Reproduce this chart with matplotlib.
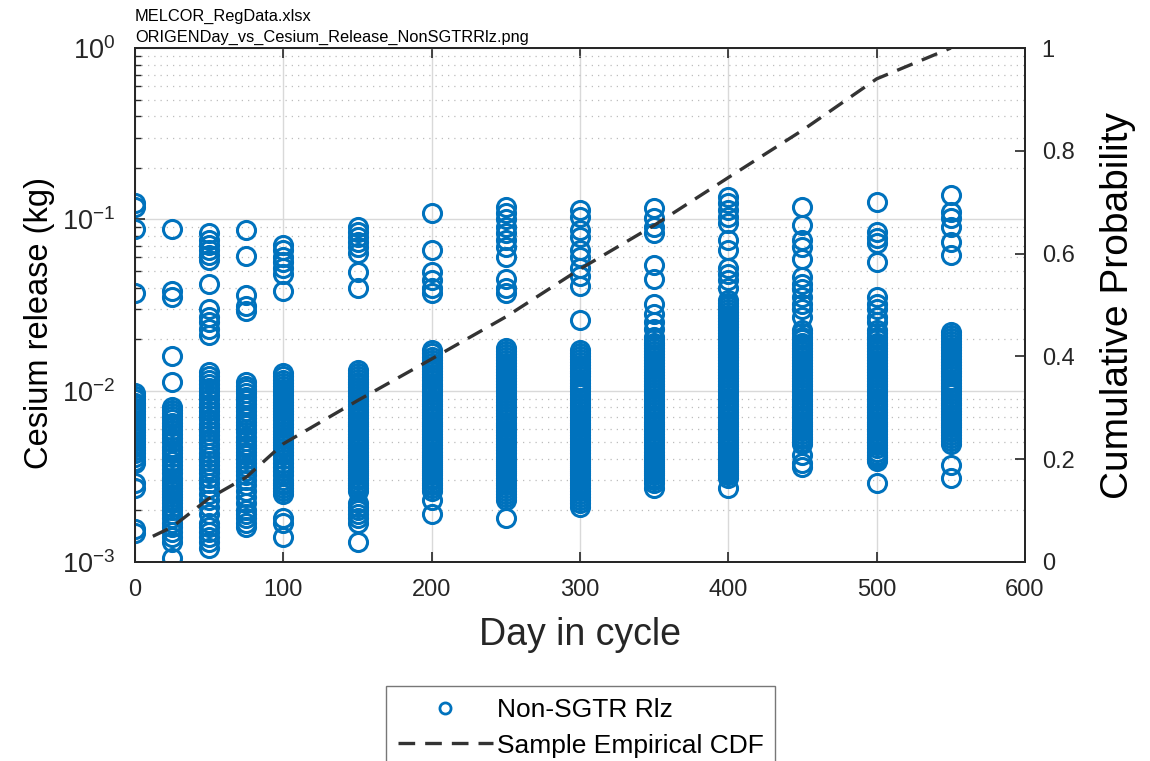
import numpy as np
import matplotlib
matplotlib.use("Agg")
import matplotlib.pyplot as plt
from matplotlib.lines import Line2D
from matplotlib.ticker import LogLocator, NullFormatter

plt.rcParams['font.family'] = ['Liberation Sans', 'DejaVu Sans']
plt.rcParams['mathtext.fontset'] = 'custom'
plt.rcParams['mathtext.rm'] = 'Liberation Sans'
plt.rcParams['mathtext.it'] = 'Liberation Sans'

# day-in-cycle groups and cesium release values (kg)
days = [0, 25, 50, 75, 100, 150, 200, 250, 300, 350, 400, 450, 500, 550]

rel_0 = [0.125, 0.118, 0.088, 0.037,
         0.0097, 0.0093, 0.0089, 0.0085, 0.0082, 0.0079, 0.0076, 0.0073, 0.0070, 0.0067,
         0.0064, 0.0061, 0.0059, 0.0057, 0.0055, 0.0053, 0.0051, 0.0049, 0.0047, 0.0045,
         0.0043, 0.0041, 0.0039, 0.0038, 0.0029, 0.0027, 0.00155, 0.00148]
rel_25 = [0.088, 0.038, 0.035, 0.016, 0.0113,
          0.0080, 0.0077, 0.0074, 0.0071, 0.0068, 0.0065, 0.0062, 0.0059, 0.0056, 0.0053,
          0.0050, 0.0047, 0.0045, 0.0043, 0.0041, 0.0039, 0.0037, 0.0035, 0.0033, 0.0031,
          0.0030, 0.0029, 0.0028, 0.0027, 0.0026, 0.0025, 0.0024, 0.0023, 0.0022, 0.0021,
          0.0020, 0.0019, 0.0018, 0.0017, 0.0016, 0.0015, 0.0014, 0.0013, 0.00105]
rel_50 = [0.083, 0.076, 0.071, 0.066, 0.062, 0.058, 0.042, 0.030, 0.027, 0.025, 0.023, 0.021,
          0.0128, 0.0122, 0.0116, 0.0110, 0.0104, 0.0099, 0.0094, 0.0089, 0.0084, 0.0080,
          0.0076, 0.0072, 0.0068, 0.0064, 0.0061, 0.0058, 0.0055, 0.0052, 0.0049, 0.0046,
          0.0043, 0.0041, 0.0039, 0.0037, 0.0035, 0.0033, 0.0031, 0.0029, 0.0027, 0.0025,
          0.0023, 0.0021, 0.0019, 0.0017, 0.0016, 0.0015, 0.0014, 0.0013, 0.0012]
rel_75 = [0.087, 0.061, 0.036, 0.031, 0.029,
          0.0112, 0.0107, 0.0102, 0.0097, 0.0092, 0.0088, 0.0084, 0.0080, 0.0076, 0.0072,
          0.0069, 0.0066, 0.0063, 0.0060, 0.0057, 0.0054, 0.0051, 0.0048, 0.0046, 0.0044,
          0.0042, 0.0040, 0.0038, 0.0036, 0.0034, 0.0032, 0.0030, 0.0028, 0.0026, 0.0024,
          0.0022, 0.0020, 0.0019, 0.0018, 0.0017, 0.0016]
rel_100 = [0.071, 0.066, 0.060, 0.056, 0.052, 0.048, 0.038,
           0.0126, 0.0121, 0.0116, 0.0111, 0.0106, 0.0102, 0.0098, 0.0094, 0.0090, 0.0086,
           0.0082, 0.0079, 0.0076, 0.0073, 0.0070, 0.0067, 0.0064, 0.0061, 0.0058, 0.0056,
           0.0054, 0.0052, 0.0050, 0.0048, 0.0046, 0.0044, 0.0042, 0.0040, 0.0038, 0.0036,
           0.0034, 0.0032, 0.0030, 0.0029, 0.0028, 0.0027, 0.0026, 0.0025, 0.0018, 0.0017,
           0.0014]
rel_150 = [0.090, 0.084, 0.079, 0.074, 0.069, 0.064, 0.049, 0.040,
           0.0132, 0.0127, 0.0122, 0.0117, 0.0113, 0.0109, 0.0105, 0.0101, 0.0097, 0.0093,
           0.0090, 0.0087, 0.0084, 0.0081, 0.0078, 0.0075, 0.0072, 0.0069, 0.0066, 0.0064,
           0.0062, 0.0060, 0.0058, 0.0056, 0.0054, 0.0052, 0.0050, 0.0048, 0.0046, 0.0044,
           0.0042, 0.0041, 0.0040, 0.0039, 0.0038, 0.0037, 0.0036, 0.0035, 0.0034, 0.0033,
           0.0032, 0.0031, 0.0030, 0.0029, 0.0028, 0.0027, 0.0026, 0.0022, 0.0021, 0.0020,
           0.0019, 0.0018, 0.0017, 0.0013]
rel_200 = [0.109, 0.066, 0.049, 0.044, 0.040, 0.037,
           0.0172, 0.0165, 0.0158, 0.0152, 0.0146, 0.0140, 0.0135, 0.0130, 0.0125, 0.0120,
           0.0115, 0.0110, 0.0106, 0.0102, 0.0098, 0.0094, 0.0090, 0.0087, 0.0084, 0.0081,
           0.0078, 0.0075, 0.0072, 0.0069, 0.0066, 0.0064, 0.0062, 0.0060, 0.0058, 0.0056,
           0.0054, 0.0052, 0.0050, 0.0048, 0.0046, 0.0044, 0.0042, 0.0041, 0.0040, 0.0039,
           0.0038, 0.0037, 0.0036, 0.0035, 0.0034, 0.0033, 0.0032, 0.0031, 0.0030, 0.0029,
           0.0028, 0.0027, 0.0026, 0.0023, 0.0019]
rel_250 = [0.118, 0.109, 0.100, 0.090, 0.083, 0.076, 0.069, 0.060, 0.045, 0.040, 0.037,
           0.0177, 0.0171, 0.0164, 0.0157, 0.0151, 0.0145, 0.0139, 0.0134, 0.0129, 0.0124,
           0.0119, 0.0114, 0.0109, 0.0105, 0.0101, 0.0097, 0.0093, 0.0089, 0.0086, 0.0083,
           0.0080, 0.0077, 0.0074, 0.0071, 0.0068, 0.0065, 0.0063, 0.0061, 0.0059, 0.0057,
           0.0055, 0.0053, 0.0051, 0.0049, 0.0047, 0.0045, 0.0043, 0.0041, 0.0040, 0.0039,
           0.0038, 0.0037, 0.0036, 0.0035, 0.0034, 0.0033, 0.0032, 0.0031, 0.0030, 0.0029,
           0.0028, 0.0027, 0.0026, 0.0025, 0.0024, 0.0023, 0.0018]
rel_300 = [0.113, 0.103, 0.087, 0.079, 0.066, 0.060, 0.052, 0.047, 0.041, 0.026,
           0.0173, 0.0166, 0.0159, 0.0153, 0.0147, 0.0141, 0.0136, 0.0131, 0.0126, 0.0121,
           0.0116, 0.0111, 0.0107, 0.0103, 0.0099, 0.0095, 0.0091, 0.0088, 0.0085, 0.0082,
           0.0079, 0.0076, 0.0073, 0.0070, 0.0067, 0.0065, 0.0063, 0.0061, 0.0059, 0.0057,
           0.0055, 0.0053, 0.0051, 0.0049, 0.0047, 0.0045, 0.0043, 0.0041, 0.0040, 0.0039,
           0.0038, 0.0037, 0.0036, 0.0035, 0.0034, 0.0033, 0.0032, 0.0031, 0.0030, 0.0029,
           0.0028, 0.0027, 0.0026, 0.0025, 0.0024, 0.0023, 0.0022, 0.0021]
rel_350 = [0.116, 0.102, 0.090, 0.083, 0.054, 0.045, 0.032, 0.028, 0.025, 0.023,
           0.0207, 0.0199, 0.0191, 0.0184, 0.0177, 0.0170, 0.0163, 0.0157, 0.0151, 0.0145,
           0.0139, 0.0134, 0.0129, 0.0124, 0.0119, 0.0114, 0.0110, 0.0106, 0.0102, 0.0098,
           0.0094, 0.0090, 0.0087, 0.0084, 0.0081, 0.0078, 0.0075, 0.0072, 0.0069, 0.0066,
           0.0064, 0.0062, 0.0060, 0.0058, 0.0056, 0.0054, 0.0052, 0.0050, 0.0048, 0.0046,
           0.0044, 0.0042, 0.0041, 0.0040, 0.0039, 0.0038, 0.0037, 0.0036, 0.0035, 0.0034,
           0.0033, 0.0032, 0.0031, 0.0030, 0.0029, 0.0027]
rel_400 = [0.135, 0.125, 0.113, 0.103, 0.095, 0.076, 0.066, 0.052, 0.048, 0.044, 0.040,
           0.0340, 0.0326, 0.0313, 0.0300, 0.0288, 0.0277, 0.0266, 0.0255, 0.0245, 0.0235,
           0.0226, 0.0217, 0.0208, 0.0200, 0.0192, 0.0184, 0.0177, 0.0170, 0.0163, 0.0157,
           0.0151, 0.0145, 0.0139, 0.0134, 0.0129, 0.0124, 0.0119, 0.0114, 0.0110, 0.0106,
           0.0102, 0.0098, 0.0094, 0.0090, 0.0087, 0.0084, 0.0081, 0.0078, 0.0075, 0.0072,
           0.0069, 0.0066, 0.0064, 0.0062, 0.0060, 0.0058, 0.0056, 0.0054, 0.0052, 0.0050,
           0.0048, 0.0046, 0.0044, 0.0042, 0.0041, 0.0040, 0.0039, 0.0038, 0.0037, 0.0036,
           0.0035, 0.0034, 0.0033, 0.0032, 0.0031, 0.0027]
rel_450 = [0.118, 0.093, 0.076, 0.069, 0.059, 0.046, 0.042, 0.039, 0.035, 0.032, 0.030,
           0.027, 0.0225, 0.0216, 0.0207, 0.0199, 0.0191, 0.0184, 0.0177, 0.0170, 0.0163,
           0.0157, 0.0151, 0.0145, 0.0139, 0.0134, 0.0129, 0.0124, 0.0119, 0.0114, 0.0110,
           0.0106, 0.0102, 0.0098, 0.0094, 0.0090, 0.0087, 0.0084, 0.0081, 0.0078, 0.0075,
           0.0072, 0.0069, 0.0066, 0.0064, 0.0062, 0.0060, 0.0058, 0.0056, 0.0054, 0.0052,
           0.0050, 0.0049, 0.0042, 0.0038, 0.0036]
rel_500 = [0.126, 0.084, 0.078, 0.073, 0.056, 0.035, 0.032, 0.030, 0.027, 0.025,
           0.0225, 0.0216, 0.0207, 0.0199, 0.0191, 0.0184, 0.0177, 0.0170, 0.0163, 0.0157,
           0.0151, 0.0145, 0.0139, 0.0134, 0.0129, 0.0124, 0.0119, 0.0114, 0.0110, 0.0106,
           0.0102, 0.0098, 0.0094, 0.0090, 0.0087, 0.0084, 0.0081, 0.0078, 0.0075, 0.0072,
           0.0069, 0.0066, 0.0064, 0.0062, 0.0060, 0.0058, 0.0056, 0.0054, 0.0052, 0.0050,
           0.0048, 0.0046, 0.0044, 0.0042, 0.0041, 0.0040, 0.0039, 0.0029]
rel_550 = [0.138, 0.110, 0.102, 0.090, 0.074, 0.062,
           0.0220, 0.0211, 0.0203, 0.0195, 0.0187, 0.0180, 0.0173, 0.0166, 0.0159, 0.0153,
           0.0147, 0.0141, 0.0136, 0.0131, 0.0126, 0.0121, 0.0116, 0.0111, 0.0107, 0.0103,
           0.0099, 0.0095, 0.0091, 0.0088, 0.0085, 0.0082, 0.0079, 0.0076, 0.0073, 0.0070,
           0.0067, 0.0065, 0.0063, 0.0061, 0.0059, 0.0057, 0.0055, 0.0053, 0.0051, 0.0049,
           0.0037, 0.0031]

releases = [rel_0, rel_25, rel_50, rel_75, rel_100, rel_150, rel_200, rel_250,
            rel_300, rel_350, rel_400, rel_450, rel_500, rel_550]

# empirical CDF of day in cycle
cdf_day = [12, 25, 50, 75, 100, 150, 200, 250, 300, 350, 400, 450, 500, 550]
cdf_prob = [0.05, 0.068, 0.124, 0.165, 0.23, 0.314, 0.395, 0.477, 0.57, 0.655, 0.748,
            0.84, 0.94, 1.0]

blue = '#0072BD'
axcol = '#262626'

fig = plt.figure(figsize=(11.5, 7.61), dpi=100)
ax = fig.add_axes([0.1174, 0.2615, 0.7739, 0.6754])

x_all = np.concatenate([[d] * len(r) for d, r in zip(days, releases)])
y_all = np.concatenate(releases)
ax.plot(x_all, y_all, 'o', ls='none', ms=13, mfc='none', mec=blue, mew=2.2, zorder=3)

ax.set_yscale('log')
ax.set_xlim(0, 600)
ax.set_ylim(1e-3, 1)
ax.set_xticks([0, 100, 200, 300, 400, 500, 600])
ax.set_yticks([1e-3, 1e-2, 1e-1, 1])
ax.set_yticklabels([r'$10^{-3}$', r'$10^{-2}$', r'$10^{-1}$', r'$10^{0}$'])
ax.yaxis.set_minor_locator(LogLocator(base=10, subs=np.arange(2, 10)))
ax.yaxis.set_minor_formatter(NullFormatter())

ax.grid(True, which='major', color='#d9d9d9', lw=1.0, zorder=0)
ax.grid(True, which='minor', axis='y', color='#bdbdbd', lw=0.9, ls=(0, (1, 4)), zorder=0)
ax.set_axisbelow(True)

ax.tick_params(axis='both', which='major', direction='in', length=7, width=1.2,
               colors=axcol, labelsize=17, top=True)
ax.tick_params(axis='y', which='minor', direction='in', length=4, width=1.0, colors=axcol)
ax.tick_params(axis='x', pad=12)
ax.tick_params(axis='y', pad=14, labelsize=19.5)
for s in ax.spines.values():
    s.set_color(axcol)
    s.set_linewidth(1.3)

ax.set_xlabel('Day in cycle', fontsize=27, color=axcol, labelpad=12)
ax.set_ylabel('Cesium release (kg)', fontsize=23.5, color='black')
ax.yaxis.set_label_coords(-0.09, 0.465)

ax2 = ax.twinx()
ax2.plot(cdf_day, cdf_prob, color='#333333', lw=2.4, ls=(0, (5, 3)), zorder=4)
ax2.set_ylim(0, 1)
ax2.set_yticks([0, 0.2, 0.4, 0.6, 0.8, 1])
ax2.set_yticklabels(['0', '0.2', '0.4', '0.6', '0.8', '1'])
ax2.tick_params(axis='y', direction='in', length=7, width=1.2, colors=axcol, labelsize=17, pad=12)
for s in ax2.spines.values():
    s.set_color(axcol)
    s.set_linewidth(1.3)
ax2.set_ylabel('Cumulative Probability', fontsize=28, color='black', labelpad=18)

fig.text(0.1174, 0.968, 'MELCOR_RegData.xlsx', fontsize=11.8, ha='left', va='bottom')
fig.text(0.1174, 0.941, 'ORIGENDay_vs_Cesium_Release_NonSGTRRlz.png', fontsize=11.8,
         ha='left', va='bottom')

handles = [Line2D([], [], marker='o', ls='none', ms=8, mfc='none', mec=blue, mew=2),
           Line2D([], [], color='#333333', lw=2.4, ls=(0, (5, 3)))]
leg = fig.legend(handles, ['Non-SGTR Rlz', 'Sample Empirical CDF'], loc='upper center',
                 bbox_to_anchor=(0.505, 0.0986), fontsize=19, frameon=True, fancybox=False,
                 handlelength=3.6, handletextpad=0.15, borderpad=0.45, labelspacing=0.45,
                 borderaxespad=0)
leg.get_frame().set_edgecolor('#555555')
leg.get_frame().set_linewidth(1.0)

fig.savefig('out.png', dpi=100)
